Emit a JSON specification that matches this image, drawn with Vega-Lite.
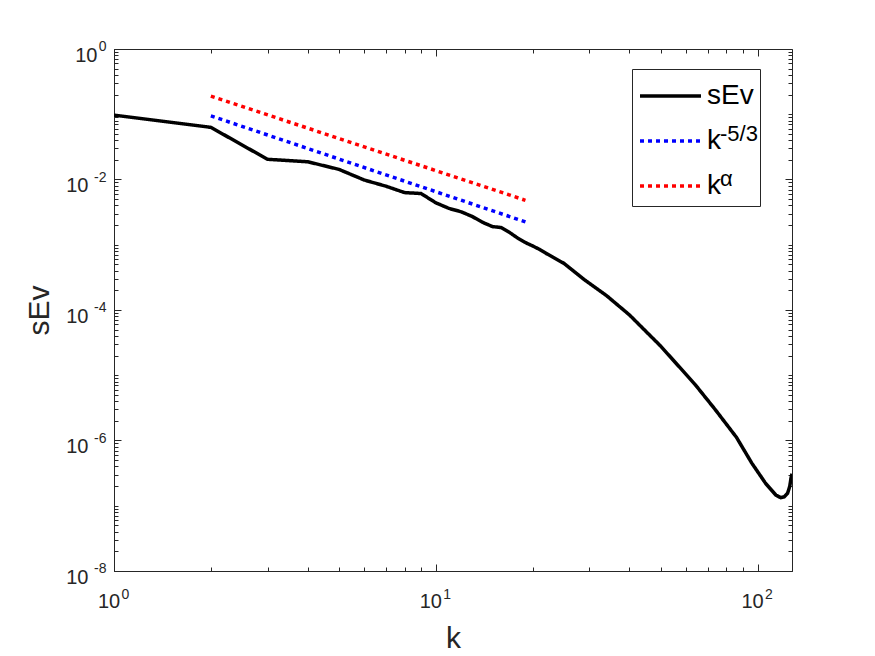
{
  "$schema": "https://vega.github.io/schema/vega-lite/v6.json",
  "width": 678,
  "height": 522,
  "autosize": {"type": "none"},
  "padding": {"left": 114, "top": 49, "right": 83, "bottom": 85},
  "background": "white",
  "config": {
    "view": {"stroke": "#262626", "strokeWidth": 1},
    "font": "Liberation Sans",
    "axis": {
      "domainColor": "#262626",
      "tickColor": "#262626",
      "labelColor": "#262626",
      "titleColor": "#262626",
      "labelFont": "Liberation Sans",
      "titleFont": "Liberation Sans",
      "titleFontSize": 30,
      "titleFontWeight": "normal",
      "grid": false,
      "labelFlush": false,
      "labelOverlap": false
    },
    "legend": {"labelFont": "Liberation Sans"}
  },
  "datasets": {
    "spec": [
      {"k": 1, "v": 0.097, "series": "sEv"},
      {"k": 2, "v": 0.063, "series": "sEv"},
      {"k": 3, "v": 0.0204, "series": "sEv"},
      {"k": 4, "v": 0.0187, "series": "sEv"},
      {"k": 5, "v": 0.0143, "series": "sEv"},
      {"k": 6, "v": 0.0098, "series": "sEv"},
      {"k": 7, "v": 0.0079, "series": "sEv"},
      {"k": 8, "v": 0.0063, "series": "sEv"},
      {"k": 9, "v": 0.0061, "series": "sEv"},
      {"k": 10, "v": 0.0044, "series": "sEv"},
      {"k": 11, "v": 0.0036, "series": "sEv"},
      {"k": 12, "v": 0.0032, "series": "sEv"},
      {"k": 13, "v": 0.0027, "series": "sEv"},
      {"k": 14, "v": 0.0022, "series": "sEv"},
      {"k": 15, "v": 0.0019, "series": "sEv"},
      {"k": 16, "v": 0.00183, "series": "sEv"},
      {"k": 17, "v": 0.00153, "series": "sEv"},
      {"k": 18, "v": 0.00126, "series": "sEv"},
      {"k": 19, "v": 0.00108, "series": "sEv"},
      {"k": 20, "v": 0.00096, "series": "sEv"},
      {"k": 21, "v": 0.00085, "series": "sEv"},
      {"k": 22, "v": 0.00074, "series": "sEv"},
      {"k": 25, "v": 0.00052, "series": "sEv"},
      {"k": 29, "v": 0.00029, "series": "sEv"},
      {"k": 34, "v": 0.000165, "series": "sEv"},
      {"k": 40, "v": 0.000084, "series": "sEv"},
      {"k": 45, "v": 0.000047, "series": "sEv"},
      {"k": 50, "v": 0.000028, "series": "sEv"},
      {"k": 56, "v": 0.000015, "series": "sEv"},
      {"k": 64, "v": 0.0000072, "series": "sEv"},
      {"k": 74, "v": 0.00000295, "series": "sEv"},
      {"k": 86, "v": 0.00000112, "series": "sEv"},
      {"k": 96, "v": 0.00000045, "series": "sEv"},
      {"k": 106, "v": 0.00000022, "series": "sEv"},
      {"k": 114, "v": 0.000000146, "series": "sEv"},
      {"k": 118, "v": 0.000000133, "series": "sEv"},
      {"k": 121, "v": 0.000000137, "series": "sEv"},
      {"k": 124, "v": 0.000000155, "series": "sEv"},
      {"k": 126, "v": 0.0000002, "series": "sEv"},
      {"k": 127, "v": 0.00000026, "series": "sEv"},
      {"k": 128, "v": 0.00000031, "series": "sEv"},
      {"k": 2, "v": 0.0945, "series": "k-5/3"},
      {"k": 19, "v": 0.00224, "series": "k-5/3"},
      {"k": 2, "v": 0.19, "series": "kalpha"},
      {"k": 19, "v": 0.0048, "series": "kalpha"}
    ]
  },
  "data": {"name": "spec"},
  "resolve": {"axis": {"x": "independent", "y": "independent"}},
  "layer": [
    {
      "mark": {"type": "line", "strokeWidth": 3.5, "strokeCap": "butt", "clip": true},
      "encoding": {
        "x": {
          "field": "k", "type": "quantitative",
          "scale": {"type": "log", "domain": [1, 128], "nice": false},
          "axis": {
            "orient": "bottom", "title": null, "labels": false,
            "values": [1,2,3,4,5,6,7,8,9,10,20,30,40,50,60,70,80,90,100],
            "tickSize": {"condition": {"test": "indexof([1,10,100], datum.value) >= 0", "value": -7}, "value": -4}
          }
        },
        "y": {
          "field": "v", "type": "quantitative",
          "scale": {"type": "log", "domain": [1e-8, 1], "nice": false},
          "axis": {
            "orient": "left", "title": null, "labels": false,
            "values": [1e-8,2e-8,3e-8,4e-8,5e-8,6e-8,7e-8,8e-8,9e-8,1e-7,2e-7,3e-7,4e-7,5e-7,6e-7,7e-7,8e-7,9e-7,1e-6,2e-6,3e-6,4e-6,5e-6,6e-6,7e-6,8e-6,9e-6,1e-5,2e-5,3e-5,4e-5,5e-5,6e-5,7e-5,8e-5,9e-5,1e-4,2e-4,3e-4,4e-4,5e-4,6e-4,7e-4,8e-4,9e-4,1e-3,2e-3,3e-3,4e-3,5e-3,6e-3,7e-3,8e-3,9e-3,1e-2,2e-2,3e-2,4e-2,5e-2,6e-2,7e-2,8e-2,9e-2,1e-1,2e-1,3e-1,4e-1,5e-1,6e-1,7e-1,8e-1,9e-1,1],
            "tickSize": {"condition": {"test": "indexof([1e-8,1e-6,1e-4,1e-2,1], datum.value) >= 0", "value": -7}, "value": -4}
          }
        },
        "color": {
          "field": "series", "type": "nominal",
          "scale": {"domain": ["sEv", "k-5/3", "kalpha"], "range": ["#000000", "#0000ff", "#ff0000"]},
          "legend": {
            "title": null,
            "orient": "none",
            "legendX": 518,
            "legendY": 20,
            "direction": "vertical",
            "strokeColor": "#262626",
            "padding": 6,
            "symbolType": "M-1,0H2.21",
            "symbolSize": 1444,
            "symbolStrokeWidth": 3.5,
            "symbolFillColor": "transparent",
            "labelFontSize": 28,
            "labelColor": "#000000",
            "labelOffset": 27,
            "rowPadding": 10,
            "labelExpr": "datum.value == 'sEv' ? 'sEv' : 'k'"
          }
        },
        "strokeDash": {
          "field": "series", "type": "nominal",
          "scale": {"domain": ["sEv", "k-5/3", "kalpha"], "range": [[1, 0], [4, 4], [4, 4]]}
        }
      }
    },
    {
      "mark": {"type": "line", "strokeOpacity": 0, "clip": true},
      "encoding": {
        "x": {
          "field": "k", "type": "quantitative",
          "scale": {"type": "log", "domain": [1, 128], "nice": false},
          "axis": {
            "orient": "top", "title": null, "labels": false, "domain": false,
            "values": [1,2,3,4,5,6,7,8,9,10,20,30,40,50,60,70,80,90,100],
            "tickSize": {"condition": {"test": "indexof([1,10,100], datum.value) >= 0", "value": -7}, "value": -4}
          }
        },
        "y": {
          "field": "v", "type": "quantitative",
          "scale": {"type": "log", "domain": [1e-8, 1], "nice": false},
          "axis": {
            "orient": "right", "title": null, "labels": false, "domain": false,
            "values": [1e-8,2e-8,3e-8,4e-8,5e-8,6e-8,7e-8,8e-8,9e-8,1e-7,2e-7,3e-7,4e-7,5e-7,6e-7,7e-7,8e-7,9e-7,1e-6,2e-6,3e-6,4e-6,5e-6,6e-6,7e-6,8e-6,9e-6,1e-5,2e-5,3e-5,4e-5,5e-5,6e-5,7e-5,8e-5,9e-5,1e-4,2e-4,3e-4,4e-4,5e-4,6e-4,7e-4,8e-4,9e-4,1e-3,2e-3,3e-3,4e-3,5e-3,6e-3,7e-3,8e-3,9e-3,1e-2,2e-2,3e-2,4e-2,5e-2,6e-2,7e-2,8e-2,9e-2,1e-1,2e-1,3e-1,4e-1,5e-1,6e-1,7e-1,8e-1,9e-1,1],
            "tickSize": {"condition": {"test": "indexof([1e-8,1e-6,1e-4,1e-2,1], datum.value) >= 0", "value": -7}, "value": -4}
          }
        },
        "detail": {"field": "series", "type": "nominal"}
      }
    },
    {
      "mark": {"type": "line", "strokeOpacity": 0, "clip": true},
      "encoding": {
        "x": {
          "field": "k", "type": "quantitative",
          "scale": {"type": "log", "domain": [1, 128], "nice": false},
          "axis": {
            "orient": "bottom", "title": "k", "titlePadding": 12, "domain": false, "ticks": false,
            "values": [1, 10, 100],
            "labelExpr": "'10'",
            "labelFontSize": 20,
            "labelBaseline": "alphabetic",
            "labelPadding": 36,
            "labelOffset": -5.5
          }
        },
        "y": {
          "field": "v", "type": "quantitative",
          "scale": {"type": "log", "domain": [1e-8, 1], "nice": false},
          "axis": {
            "orient": "left", "title": "sEv", "titlePadding": 11, "domain": false, "ticks": false,
            "values": [1e-8, 1e-6, 1e-4, 1e-2, 1],
            "labelExpr": "'10'",
            "labelFontSize": 20,
            "labelBaseline": "alphabetic",
            "labelOffset": 12,
            "labelPadding": {"condition": {"test": "datum.value == 1", "value": 17}, "value": 26}
          }
        },
        "detail": {"field": "series", "type": "nominal"}
      }
    },
    {
      "mark": {"type": "line", "strokeOpacity": 0, "clip": true},
      "encoding": {
        "x": {
          "field": "k", "type": "quantitative",
          "scale": {"type": "log", "domain": [1, 128], "nice": false},
          "axis": {
            "orient": "bottom", "title": null, "domain": false, "ticks": false,
            "values": [1, 10, 100],
            "labelExpr": "['0','1','2'][round(log(datum.value)/LN10)]",
            "labelFontSize": 14,
            "labelBaseline": "alphabetic",
            "labelPadding": 27,
            "labelOffset": 11
          }
        },
        "y": {
          "field": "v", "type": "quantitative",
          "scale": {"type": "log", "domain": [1e-8, 1], "nice": false},
          "axis": {
            "orient": "left", "title": null, "domain": false, "ticks": false,
            "values": [1e-8, 1e-6, 1e-4, 1e-2, 1],
            "labelExpr": "['-8','-7','-6','-5','-4','-3','-2','-1','0'][round(log(datum.value)/LN10)+8]",
            "labelFontSize": 14,
            "labelBaseline": "alphabetic",
            "labelOffset": 1.5,
            "labelPadding": 8
          }
        },
        "opacity": {
          "field": "series", "type": "nominal",
          "scale": {"domain": ["kalpha", "k-5/3", "sEv"], "range": [0, 0, 0]},
          "legend": {
            "title": null,
            "orient": "none",
            "legendX": 518,
            "legendY": 20,
            "values": ["sEv", "k-5/3", "kalpha"],
            "direction": "vertical",
            "padding": 6,
            "symbolType": "M-1,0H2.21",
            "symbolSize": 1444,
            "symbolStrokeWidth": 3.5,
            "symbolOpacity": 0,
            "labelFontSize": 22,
            "labelColor": "#000000",
            "labelBaseline": "alphabetic",
            "labelOffset": 40,
            "rowPadding": 20,
            "labelExpr": "datum.value == 'k-5/3' ? '-5/3' : datum.value == 'kalpha' ? 'α' : ''"
          }
        },
        "detail": {"field": "series", "type": "nominal"}
      }
    }
  ]
}
